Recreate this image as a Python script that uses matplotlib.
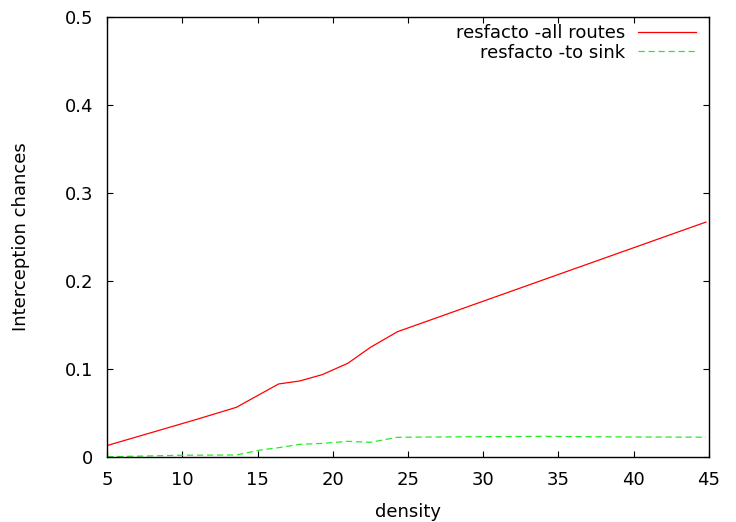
import matplotlib
matplotlib.use("Agg")
import matplotlib.pyplot as plt

density_all = [5.0, 11.0, 13.6, 16.4, 17.8, 19.3, 21.0, 22.5, 24.3, 34.0, 44.8]
chance_all = [0.013, 0.043, 0.0565, 0.083, 0.0864, 0.0936, 0.1065, 0.1246, 0.1424, 0.2014, 0.267]

density_sink = [5.0, 10.0, 13.6, 15.2, 16.4, 17.8, 19.3, 21.0, 22.5, 24.3, 29.0, 34.0, 39.0, 44.8]
chance_sink = [0.0003, 0.002, 0.0023, 0.008, 0.0106, 0.0144, 0.0155, 0.0178, 0.0167, 0.0224, 0.023, 0.0235, 0.0228, 0.0225]

xticks = [5, 10, 15, 20, 25, 30, 35, 40, 45]
yticks = [0, 0.1, 0.2, 0.3, 0.4, 0.5]
ytick_labels = ['0', '0.1', '0.2', '0.3', '0.4', '0.5']

plt.rcParams['font.family'] = ['DejaVu Sans']
plt.rcParams['font.size'] = 13

fig = plt.figure(figsize=(7.36, 5.22), dpi=100)
ax = fig.add_axes([0.1454, 0.1245, 0.8179, 0.8429])

ax.plot(density_all, chance_all, color='#ff0000', linewidth=0.9, label='resfacto -all routes')
ax.plot(density_sink, chance_sink, color='#22ee22', linewidth=0.9, linestyle=(0, (5, 3)),
        label='resfacto -to sink')

ax.set_xlim(5, 45)
ax.set_ylim(0, 0.5)
ax.set_xticks(xticks)
ax.set_yticks(yticks)
ax.set_yticklabels(ytick_labels)
ax.tick_params(direction='in', top=True, right=True, length=4.5, width=0.8, pad=10)
for s in ax.spines.values():
    s.set_linewidth(1)

ax.set_xlabel('density')
ax.set_ylabel('Interception chances')
ax.xaxis.set_label_coords(0.5, -0.104)
ax.yaxis.set_label_coords(-0.128, 0.5)

ax.legend(loc='upper right', frameon=False, markerfirst=False, handlelength=3.2,
          borderaxespad=0.0, labelspacing=0.08, handletextpad=0.72,
          bbox_to_anchor=(0.99, 1.0))

fig.savefig('out.png', dpi=100)
